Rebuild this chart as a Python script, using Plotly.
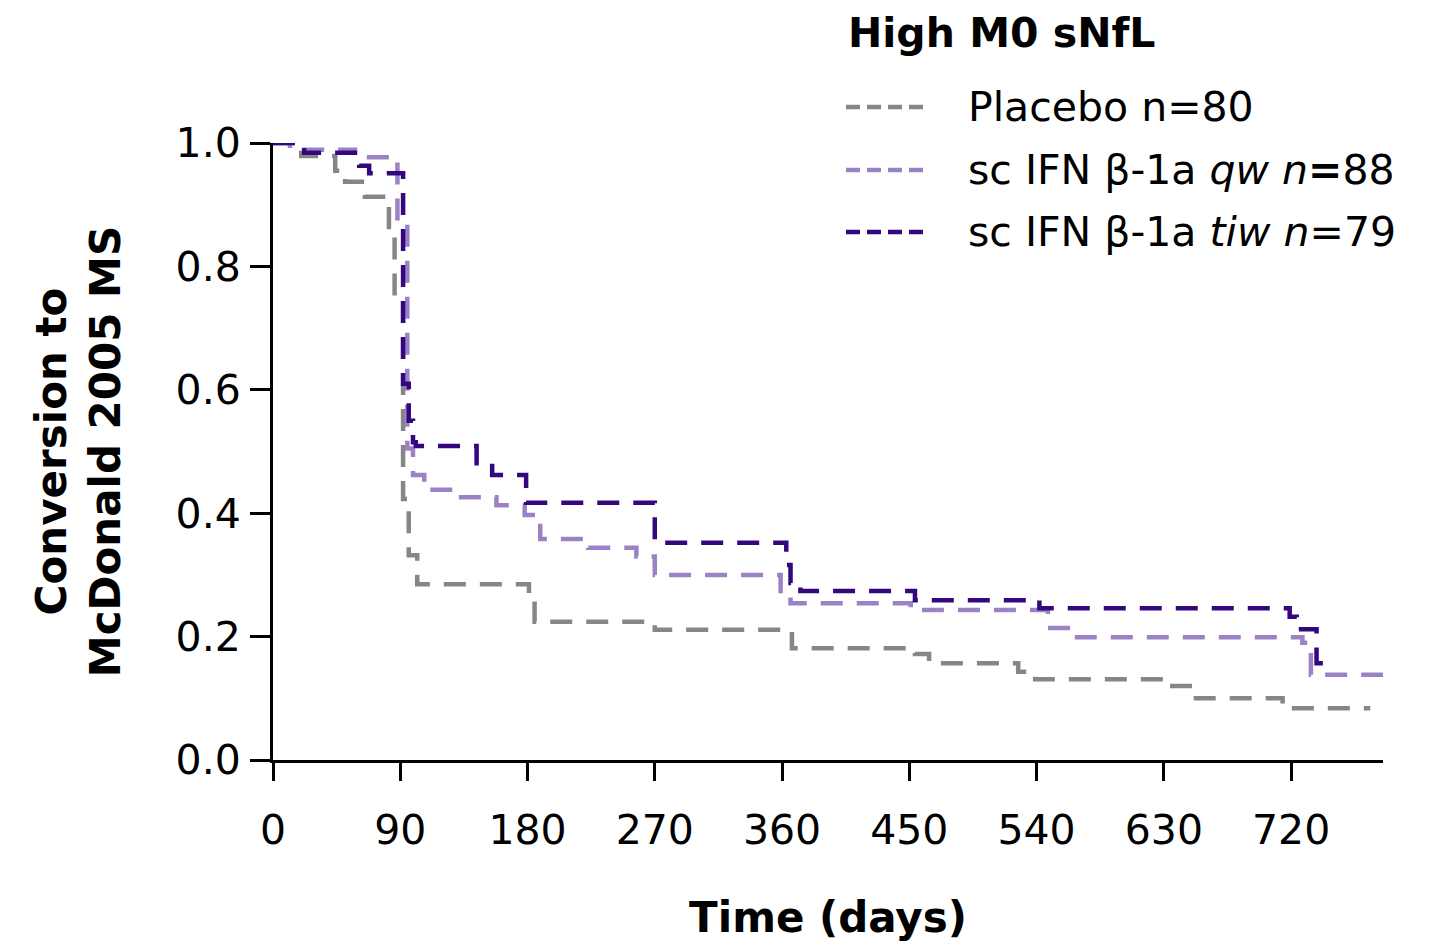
import plotly.graph_objects as go

# ---- data ----
placebo_t = [0, 20, 44, 51, 65, 82, 86, 92, 96, 102, 181, 185, 270, 367, 454, 464, 527, 539, 632, 651, 714, 776]
placebo_s = [1.0, 0.979, 0.955, 0.937, 0.913, 0.864, 0.745, 0.423, 0.332, 0.285, 0.265, 0.224, 0.211, 0.181,
             0.172, 0.157, 0.143, 0.131, 0.12, 0.100, 0.084, 0.084]

qw_t = [0, 12, 58, 88, 95, 99, 107, 130, 158, 178, 189, 223, 257, 270, 359, 366, 451, 548, 564, 728, 734, 785]
qw_s = [1.0, 0.989, 0.977, 0.87, 0.505, 0.462, 0.438, 0.426, 0.413, 0.397, 0.358, 0.344, 0.33, 0.30,
        0.27, 0.254, 0.243, 0.214, 0.199, 0.19, 0.138, 0.138]

tiw_t = [0, 22, 61, 68, 92, 96, 99, 101, 144, 155, 179, 270, 363, 366, 373, 454, 542, 719, 724, 738, 744]
tiw_s = [1.0, 0.984, 0.963, 0.951, 0.61, 0.55, 0.515, 0.509, 0.481, 0.462, 0.417, 0.352, 0.316, 0.287,
         0.274, 0.259, 0.246, 0.232, 0.212, 0.157, 0.157]

x_ticks = [0, 90, 180, 270, 360, 450, 540, 630, 720]
y_ticks = [0.0, 0.2, 0.4, 0.6, 0.8, 1.0]

series_names = ["Placebo n=80",
                "sc IFN β-1a <i>qw n</i><b>=</b>88",
                "sc IFN β-1a <i>tiw n</i>=79"]
legend_title = "<b>High M0 sNfL</b>"
x_title = "<b>Time (days)</b>"
y_title = "<b>Conversion to<br>McDonald 2005 MS</b>"

colors = ["#868686", "#9b82c4", "#34077f"]
FONT = "DejaVu Sans"
DASH = "22px,14px"
FS = 41
FSB = 42

fig = go.Figure()
for t, s, c, n in zip([placebo_t, qw_t, tiw_t], [placebo_s, qw_s, tiw_s], colors, series_names):
    fig.add_trace(go.Scatter(x=t, y=s, mode="lines", name=n, showlegend=False, cliponaxis=False,
                             line=dict(shape="hv", color=c, width=4.5, dash=DASH)))

OFF = 8  # page body margin
W, H = 1444 - OFF, 949 - OFF
L, R, T, B = 273 - OFF, 61, 143 - OFF, 189
pw, ph = W - L - R, H - T - B


def px_x(px):
    return (px - OFF - L) / pw


def px_y(py):
    return (H - B - (py - OFF)) / ph


annotations = [dict(text=legend_title, x=px_x(846), y=px_y(33), xref="paper", yref="paper",
                    xanchor="left", yanchor="middle", showarrow=False,
                    font=dict(family=FONT, size=41, color="black"))]
shapes = []
leg_y = [107, 170, 232]
for c, n, ly in zip(colors, series_names, leg_y):
    shapes.append(dict(type="line", xref="paper", yref="paper", x0=px_x(846), x1=px_x(926),
                       y0=px_y(ly), y1=px_y(ly), line=dict(color=c, width=4.5, dash="14px,7px")))
    annotations.append(dict(text=n, x=px_x(966), y=px_y(ly), xref="paper", yref="paper",
                            xanchor="left", yanchor="middle", showarrow=False,
                            font=dict(family=FONT, size=FS, color="black")))

fig.update_layout(
    width=W, height=H, margin=dict(l=L, r=R, t=T, b=B, pad=0),
    paper_bgcolor="white", plot_bgcolor="white",
    font=dict(family=FONT, size=FS, color="black"),
    annotations=annotations, shapes=shapes, showlegend=False,
    xaxis=dict(range=[0, 785], tickvals=x_ticks, ticks="outside", ticklen=18, tickwidth=2.5,
               tickcolor="black", showline=True, linewidth=3, linecolor="black", showgrid=False,
               zeroline=False, ticklabelstandoff=14,
               title=dict(text=x_title, font=dict(family=FONT, size=FSB), standoff=50)),
    yaxis=dict(range=[0, 1.0], tickvals=y_ticks, tickformat=".1f", ticks="outside", ticklen=20,
               tickwidth=2.5, tickcolor="black", showline=True, linewidth=3, linecolor="black",
               showgrid=False, zeroline=False, ticklabelstandoff=1,
               title=dict(text=y_title, font=dict(family=FONT, size=FSB), standoff=42)),
)

fig.write_html("out.html")
